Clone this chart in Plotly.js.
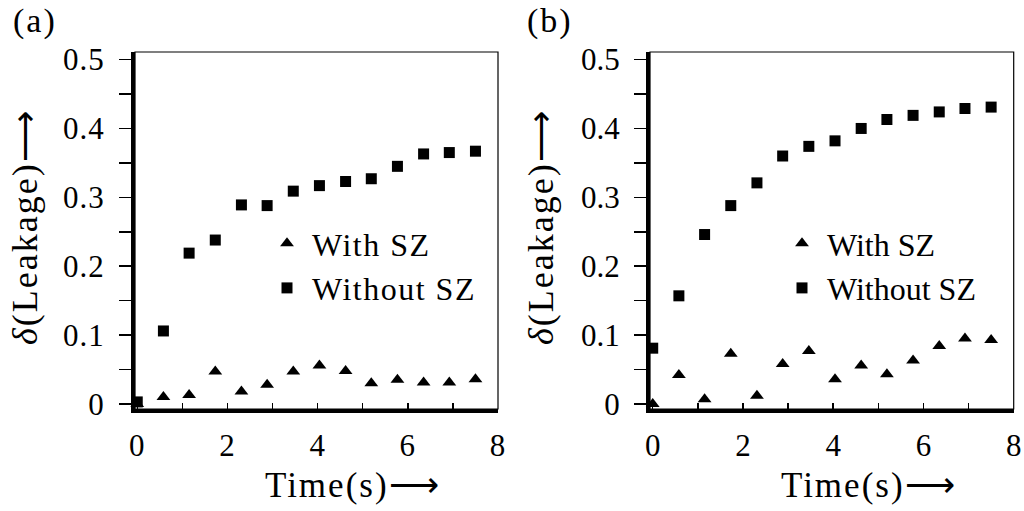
<!DOCTYPE html>
<html>
<head>
<meta charset="utf-8">
<script src="https://cdn.plot.ly/plotly-3.0.1.min.js"></script>
<style>
html,body{margin:0;padding:0;background:#fff;}
#chart{width:1024px;height:511px;}
.annotation-text{letter-spacing:2px;}
.legendtext{letter-spacing:1.5px;}
.xtick text,.ytick text{letter-spacing:1px;}
</style>
</head>
<body>
<div id="chart"></div>
<script>
// ---- data ----
const timeA = [0, 0.58, 1.15, 1.73, 2.31, 2.88, 3.46, 4.04, 4.62, 5.19, 5.77, 6.35, 6.92, 7.5];
const withSZ_A = [0.0, 0.010, 0.013, 0.047, 0.018, 0.028, 0.047, 0.056, 0.048, 0.030, 0.035, 0.031, 0.031, 0.036];
const withoutSZ_A = [0.003, 0.106, 0.219, 0.238, 0.289, 0.288, 0.309, 0.317, 0.323, 0.327, 0.345, 0.363, 0.365, 0.367];

const timeB = [0, 0.58, 1.15, 1.73, 2.31, 2.88, 3.46, 4.04, 4.62, 5.19, 5.77, 6.35, 6.92, 7.5];
const withSZ_B = [0.0, 0.042, 0.007, 0.073, 0.012, 0.058, 0.077, 0.036, 0.056, 0.043, 0.063, 0.084, 0.095, 0.093];
const withoutSZ_B = [0.081, 0.157, 0.246, 0.288, 0.321, 0.360, 0.374, 0.382, 0.400, 0.413, 0.419, 0.424, 0.429, 0.431];

const seriesNames = ["With SZ", "Without SZ"];
const panelLabels = ["(a)", "(b)"];
const xTitle = "Time(s)⟶";
const yTitle = "<i>δ</i>(Leakage)⟶";
const yTickVals = [0, 0.1, 0.2, 0.3, 0.4, 0.5];
const yTickText = ["0", "0.1", "0.2", "0.3", "0.4", "0.5"];
const xTickVals = [0, 2, 4, 6, 8];
const xTickText = ["0", "2", "4", "6", "8"];

const FONT = "Liberation Serif, serif";

function mk(x, y, name, sym, xa, ya, leg, size) {
  return {
    type: "scatter", mode: "markers", x: x, y: y, name: name,
    xaxis: xa, yaxis: ya, legend: leg, legendgroup: leg + name,
    cliponaxis: false,
    marker: {symbol: sym, color: "#000", size: size, line: {width: 0}}
  };
}

const data = [
  mk(timeA, withSZ_A, seriesNames[0], "triangle-up", "x", "y", "legend", 12),
  mk(timeA, withoutSZ_A, seriesNames[1], "square", "x", "y", "legend", 11),
  mk(timeB, withSZ_B, seriesNames[0], "triangle-up", "x2", "y2", "legend2", 12),
  mk(timeB, withoutSZ_B, seriesNames[1], "square", "x2", "y2", "legend2", 11)
];

const yDom = [0.19961, 0.89824];
const yRange = [-0.0073, 0.511];

function yax(anchor) {
  return {
    domain: yDom, range: yRange, anchor: anchor,
    showgrid: false, zeroline: false,
    showline: true, linewidth: 4, linecolor: "#000",
    ticks: "outside", ticklen: 12, tickwidth: 1.5, tickcolor: "#000",
    tickmode: "array", tickvals: yTickVals, ticktext: yTickText,
    minor: {dtick: 0.05, tick0: 0, ticks: "outside", ticklen: 12, tickwidth: 1.5, tickcolor: "#000", showgrid: false},
    tickfont: {family: FONT, size: 31, color: "#000"},
    ticklabelstandoff: 8
  };
}
function xax(dom, rng, anchor) {
  return {
    domain: dom, range: rng, anchor: anchor,
    showgrid: false, zeroline: false,
    showline: true, linewidth: 4, linecolor: "#000",
    ticks: "inside", ticklen: 6, tickwidth: 1.5, tickcolor: "#000",
    tickmode: "array", tickvals: xTickVals, ticktext: xTickText,
    minor: {dtick: 1, tick0: 0, ticks: "inside", ticklen: 6, tickwidth: 1.5, tickcolor: "#000", showgrid: false},
    tickfont: {family: FONT, size: 31, color: "#000"},
    ticklabelstandoff: 6
  };
}
function xaxOver(over, rng, anchor) {
  return {
    overlaying: over, range: rng, anchor: anchor, side: "bottom",
    showgrid: false, zeroline: false, showline: false,
    ticks: "outside", ticklen: 4, tickwidth: 1.5, tickcolor: "#000",
    tickmode: "array", tickvals: xTickVals, showticklabels: false,
    minor: {dtick: 1, tick0: 0, ticks: "outside", ticklen: 4, tickwidth: 1.5, tickcolor: "#000", showgrid: false}
  };
}

const rangeA = [-0.05, 8];
const rangeB = [-0.06, 8];
const domA = [0.13184, 0.48633];
const domB = [0.63477, 0.98994];

function frame(xr, yr) {
  return {type: "rect", xref: xr + " domain", yref: yr + " domain", x0: 0, x1: 1, y0: 0, y1: 1,
          line: {color: "#000", width: 1.2}, fillcolor: "rgba(0,0,0,0)", layer: "below"};
}
function ann(text, x, y, size, angle, anchorX) {
  return {text: text, xref: "paper", yref: "paper", x: x / 1024, y: 1 - y / 511,
          xanchor: anchorX || "center", yanchor: "middle", showarrow: false, textangle: angle || 0,
          font: {family: FONT, size: size, color: "#000"}};
}

const legendBase = {
  font: {family: FONT, size: 32, color: "#000"},
  bgcolor: "rgba(0,0,0,0)", borderwidth: 0,
  xanchor: "left", yanchor: "top", tracegroupgap: 0, traceorder: "grouped",
  itemwidth: 40, itemclick: false
};

const layout = {
  width: 1024, height: 511,
  margin: {l: 0, r: 0, t: 0, b: 0},
  paper_bgcolor: "#fff", plot_bgcolor: "#fff",
  showlegend: true,
  xaxis: xax(domA, rangeA, "y"),
  yaxis: yax("x"),
  xaxis2: xax(domB, rangeB, "y2"),
  yaxis2: yax("x2"),
  xaxis3: xaxOver("x", rangeA, "y"),
  xaxis4: xaxOver("x2", rangeB, "y2"),
  legend: Object.assign({}, legendBase, {x: 262 / 1024, y: 1 - 216 / 511}),
  legend2: Object.assign({}, legendBase, {x: 777 / 1024, y: 1 - 216 / 511}),
  shapes: [frame("x", "y"), frame("x2", "y2")],
  annotations: [
    ann(panelLabels[0], 35, 21, 34),
    ann(panelLabels[1], 550, 21, 34),
    ann(xTitle, 353, 485, 35),
    ann(xTitle, 869, 485, 35),
    ann(yTitle, 25, 227, 36, -90),
    ann(yTitle, 541, 227, 36, -90)
  ]
};

Plotly.newPlot("chart", data, layout, {staticPlot: true, displayModeBar: false});
</script>
</body>
</html>
